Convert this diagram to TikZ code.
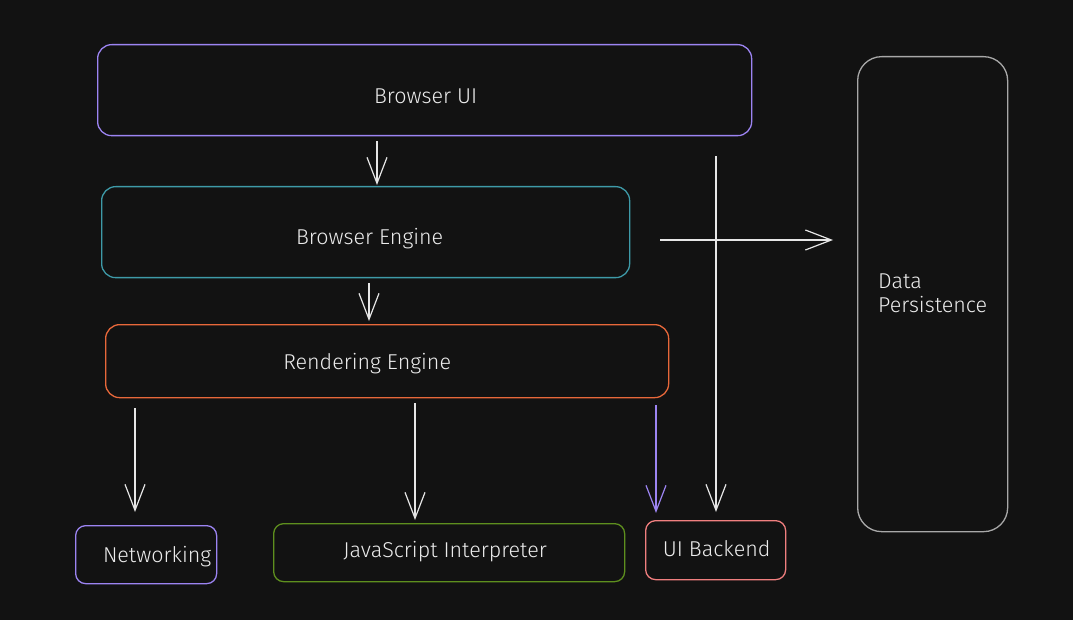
\documentclass[tikz,border=0pt]{standalone}
\usepackage{fontspec}
\setmainfont{Fira Sans Light}
\usetikzlibrary{arrows.meta}
\definecolor{bg}{HTML}{121212}
\definecolor{cpurple}{HTML}{9C84F2}
\definecolor{cteal}{HTML}{3E9AA8}
\definecolor{corange}{HTML}{E8683A}
\definecolor{cgreen}{HTML}{5E8F1E}
\definecolor{csalmon}{HTML}{F07F7F}
\definecolor{cgray}{HTML}{A8A8A8}
\definecolor{cwhite}{HTML}{E6E6E6}
\definecolor{ctext}{HTML}{ECECEC}
\tikzset{
  box/.style={draw=#1, line width=1.3pt, rounded corners=14pt, anchor=north west, inner sep=0pt},
  smallbox/.style={box=#1, rounded corners=10pt},
  txt/.style={text=ctext, font=\fontsize{21.5}{24}\selectfont, inner sep=0pt},
  arr/.style={draw=cwhite, line width=1.2pt, -{Straight Barb[length=26pt,width=20pt,line width=1.2pt]}},
  parr/.style={arr, draw=cpurple}
}
\begin{document}
\begin{tikzpicture}[x=1pt,y=-1pt]
\fill[bg] (0,0) rectangle (1073,620);
\useasboundingbox (0,0) rectangle (1073,620);

\node[box=cpurple, minimum width=654pt, minimum height=91pt] (ui) at (97,44) {};
\node[box=cteal, minimum width=528pt, minimum height=91pt] (be) at (101,186) {};
\node[box=corange, minimum width=563pt, minimum height=73pt] (re) at (105,324) {};
\node[smallbox=cpurple, minimum width=141pt, minimum height=58pt] (net) at (75,525) {};
\node[smallbox=cgreen, minimum width=351pt, minimum height=58pt] (js) at (273,523) {};
\node[smallbox=csalmon, minimum width=140pt, minimum height=59pt] (uib) at (645,520) {};
\node[box=cgray, rounded corners=24pt, minimum width=150pt, minimum height=475pt] (dp) at (857,56) {};

\node[txt] (ui-t) at ([xshift=1pt,yshift=-6pt]ui.center) {Browser UI};
\node[txt] (be-t) at ([xshift=4pt,yshift=-6pt]be.center) {Browser Engine};
\node[txt] (re-t) at ([xshift=-20pt,yshift=-2pt]re.center) {Rendering Engine};
\node[txt] (net-t) at ([xshift=11pt,yshift=-2pt]net.center) {Networking};
\node[txt] (js-t) at ([xshift=-4pt,yshift=1pt]js.center) {JavaScript Interpreter};
\node[txt] (uib-t) at ([xshift=1pt,yshift=2pt]uib.center) {UI Backend};
\node[txt, align=left, anchor=west] (dp-t) at ([xshift=21pt,yshift=1pt]dp.west) {Data\\Persistence};

\coordinate (x1) at (377,0);
\coordinate (x2) at (369,0);
\coordinate (x3) at (135,0);
\coordinate (x4) at (415,0);
\coordinate (x5) at (656,0);
\coordinate (x6) at (716,0);
\coordinate (y7) at (0,240);

\draw[arr, shorten <=5pt, shorten >=1pt] (ui.south -| x1) -- (be.north -| x1);
\draw[arr, shorten <=5pt, shorten >=3pt] (be.south -| x2) -- (re.north -| x2);
\draw[arr, shorten <=10pt, shorten >=13pt] (re.south -| x3) -- (net.north -| x3);
\draw[arr, shorten <=5pt, shorten >=3pt] (re.south -| x4) -- (js.north -| x4);
\draw[parr, shorten <=7pt, shorten >=7pt] (re.south -| x5) -- (uib.north -| x5);
\draw[arr, shorten <=20pt, shorten >=8pt] (ui.south -| x6) -- (uib.north -| x6);
\draw[arr, shorten <=30pt, shorten >=24pt] (be.east |- y7) -- (dp.west |- y7);
\end{tikzpicture}
\end{document}
